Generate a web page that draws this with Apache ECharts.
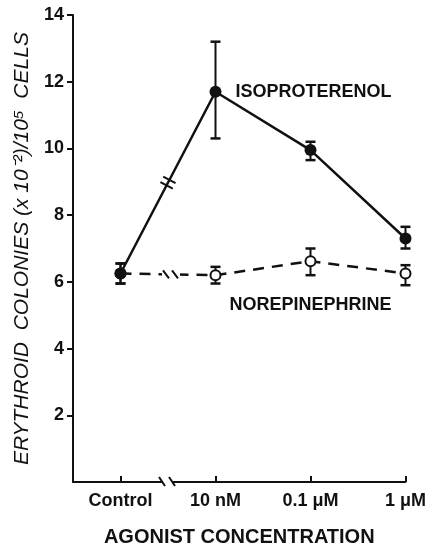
<!DOCTYPE html>
<html>
<head>
<meta charset="utf-8">
<script src="https://cdn.jsdelivr.net/npm/echarts@6/dist/echarts.min.js"></script>
<style>
html, body { margin: 0; padding: 0; background: #fff; }
#chart { width: 437px; height: 548px; }
</style>
</head>
<body>
<div id="chart"></div>
<script>
// values
const categories = ["Control", "10 nM", "0.1 \u03bcM", "1 \u03bcM"];
const seriesNames = ["ISOPROTERENOL", "NOREPINEPHRINE"];
const isoMean = [6.25, 11.7, 9.95, 7.3];
const isoLow = [5.95, 10.3, 9.65, 7.0];
const isoHigh = [6.55, 13.2, 10.2, 7.65];
const neMean = [6.25, 6.2, 6.62, 6.25];
const neLow = [5.95, 5.95, 6.2, 5.9];
const neHigh = [6.55, 6.45, 7.0, 6.5];
const yTicks = [2, 4, 6, 8, 10, 12, 14];
const xTicks = [0, 1, 2, 3];
const breakAt = [[0.5, 0]]; // axis break between Control and 10 nM

const ink = "#111";
const font = '"Liberation Sans", Arial, sans-serif';

function errorBar(capW, lw) {
  return function (params, api) {
    const x = api.value(0);
    const lo = api.coord([x, api.value(1)]);
    const hi = api.coord([x, api.value(2)]);
    const style = { stroke: ink, lineWidth: lw };
    return {
      type: "group",
      children: [
        { type: "line", shape: { x1: lo[0], y1: lo[1], x2: hi[0], y2: hi[1] }, style: style },
        { type: "line", shape: { x1: lo[0] - capW, y1: lo[1], x2: lo[0] + capW, y2: lo[1] }, style: { stroke: ink, lineWidth: 2.5 } },
        { type: "line", shape: { x1: hi[0] - capW, y1: hi[1], x2: hi[0] + capW, y2: hi[1] }, style: { stroke: ink, lineWidth: 2.5 } }
      ]
    };
  };
}

function breakMarks(params, api) {
  const bx = api.value(0);
  const ax = api.coord([bx, api.value(1)]);
  const kids = [];
  const sl = { stroke: ink, lineWidth: 2 };
  // gap in the x axis with two slashes
  kids.push({ type: "rect", shape: { x: ax[0] - 5, y: ax[1] - 3, width: 10, height: 6 }, style: { fill: "#fff" } });
  kids.push({ type: "line", shape: { x1: ax[0] - 9, y1: ax[1] - 5, x2: ax[0] - 3, y2: ax[1] + 4 }, style: sl });
  kids.push({ type: "line", shape: { x1: ax[0] + 1, y1: ax[1] - 5, x2: ax[0] + 7, y2: ax[1] + 4 }, style: sl });
  // break on the norepinephrine dashed line
  const n0 = api.coord([0, neMean[0]]), n1 = api.coord([1, neMean[1]]);
  const t = (ax[0] + 3 - n0[0]) / (n1[0] - n0[0]);
  const ny = n0[1] + (n1[1] - n0[1]) * t;
  const nx = ax[0] + 3;
  kids.push({ type: "rect", shape: { x: nx - 9, y: ny - 3, width: 18, height: 6 }, style: { fill: "#fff" } });
  kids.push({ type: "line", shape: { x1: nx - 8, y1: ny - 4, x2: nx - 2, y2: ny + 4 }, style: sl });
  kids.push({ type: "line", shape: { x1: nx + 1, y1: ny - 4, x2: nx + 7, y2: ny + 4 }, style: sl });
  // break on the isoproterenol line: two strokes across it
  const p0 = api.coord([0, isoMean[0]]), p1 = api.coord([1, isoMean[1]]);
  const dx = p1[0] - p0[0], dy = p1[1] - p0[1];
  const len = Math.hypot(dx, dy);
  const ux = dx / len, uy = dy / len;
  const vx = -uy, vy = ux;
  const mx = p0[0] + dx * 0.5, my = p0[1] + dy * 0.5;
  [-3, 3].forEach(function (o) {
    const cx = mx + ux * o, cy = my + uy * o;
    kids.push({ type: "line", shape: { x1: cx - vx * 7, y1: cy - vy * 7, x2: cx + vx * 7, y2: cy + vy * 7 }, style: sl });
  });
  return { type: "group", children: kids };
}

const isoData = isoMean.map(function (v, i) {
  const item = { value: [i, v] };
  if (i === 1) item.label = { show: true, position: "right", distance: 14 };
  return item;
});
const neData = neMean.map(function (v, i) {
  const item = { value: [i, v] };
  if (i === 1) item.label = { show: true, position: "right", distance: 8, offset: [0, 30] };
  return item;
});
const isoErr = isoMean.map(function (v, i) { return [i, isoLow[i], isoHigh[i]]; });
const neErr = neMean.map(function (v, i) { return [i, neLow[i], neHigh[i]]; });

const chart = echarts.init(document.getElementById("chart"), null, { renderer: "canvas" });
chart.setOption({
  animation: false,
  backgroundColor: "#fff",
  grid: { left: 73, right: 31.5, top: 15, bottom: 66, outerBoundsMode: "none", containLabel: false },
  xAxis: {
    type: "value",
    min: -0.5,
    max: 3,
    name: "AGONIST CONCENTRATION",
    nameLocation: "middle",
    nameGap: 45,
    nameTextStyle: { fontFamily: font, fontWeight: "bold", fontSize: 20, color: ink },
    axisLine: { onZero: false, lineStyle: { color: ink, width: 2 } },
    axisTick: { show: true, inside: true, length: 6, customValues: xTicks, lineStyle: { color: ink, width: 2 } },
    axisLabel: {
      customValues: xTicks,
      margin: 10,
      fontFamily: font,
      fontWeight: "bold",
      fontSize: 18,
      color: ink,
      formatter: function (v) { return categories[v]; }
    },
    splitLine: { show: false }
  },
  yAxis: {
    type: "value",
    min: 0,
    max: 14,
    interval: 2,
    name: "ERYTHROID  COLONIES (x 10\u207b\u00b2)/10\u2075  CELLS",
    nameLocation: "middle",
    nameRotate: 90,
    nameGap: 38,
    nameTextStyle: { fontFamily: font, fontStyle: "italic", fontSize: 21, color: ink },
    axisLine: { show: true, onZero: false, lineStyle: { color: ink, width: 2 } },
    axisTick: { show: true, length: 6, customValues: yTicks, lineStyle: { color: ink, width: 2 } },
    axisLabel: {
      customValues: yTicks,
      margin: 9,
      fontFamily: font,
      fontWeight: "bold",
      fontSize: 18,
      color: ink
    },
    splitLine: { show: false }
  },
  series: [
    {
      type: "custom",
      name: "neErr",
      renderItem: errorBar(5, 2),
      data: neErr,
      encode: { x: 0, y: [1, 2] },
      z: 2
    },
    {
      type: "custom",
      name: "isoErr",
      renderItem: errorBar(5, 2),
      data: isoErr,
      encode: { x: 0, y: [1, 2] },
      z: 2
    },
    {
      type: "line",
      name: seriesNames[1],
      data: neData,
      symbol: "circle",
      symbolSize: 10,
      lineStyle: { color: ink, width: 2.5, type: [11, 8] },
      itemStyle: { color: "#fff", borderColor: ink, borderWidth: 2 },
      label: { formatter: "{a}", fontFamily: font, fontWeight: "bold", fontSize: 18, color: ink },
      z: 3
    },
    {
      type: "line",
      name: seriesNames[0],
      data: isoData,
      symbol: "circle",
      symbolSize: 12,
      lineStyle: { color: ink, width: 2.5 },
      itemStyle: { color: ink },
      label: { formatter: "{a}", fontFamily: font, fontWeight: "bold", fontSize: 18, color: ink },
      z: 4
    },
    {
      type: "custom",
      name: "breaks",
      renderItem: breakMarks,
      data: breakAt,
      encode: { x: 0, y: 1 },
      clip: false,
      silent: true,
      z: 5
    }
  ]
});
</script>
</body>
</html>
